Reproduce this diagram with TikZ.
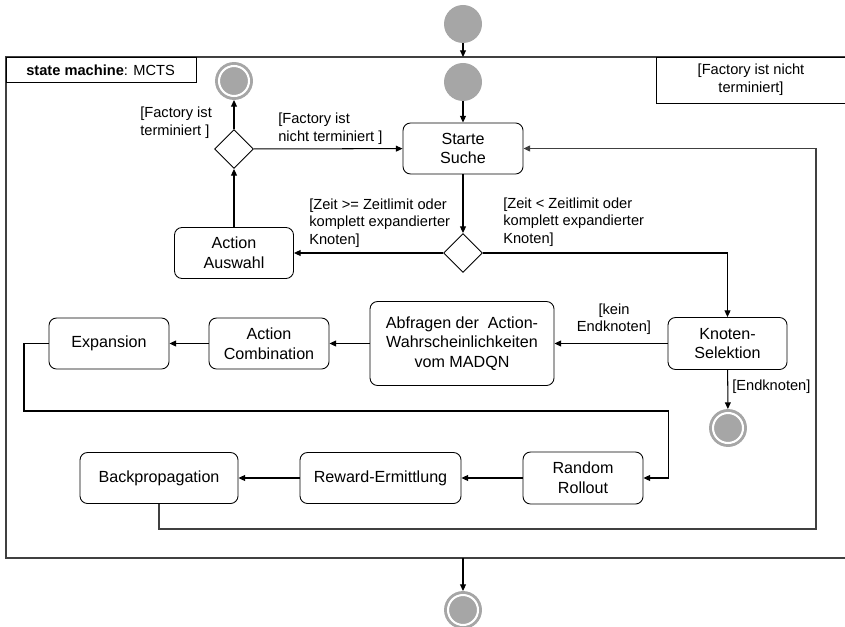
\documentclass[tikz,border=0pt]{standalone}
\usepackage{fontspec}
\setmainfont{Liberation Sans}
\usepackage{tikz}
\usetikzlibrary{shapes.geometric, arrows.meta}
\newcommand{\unitLength}{0.024cm}
\definecolor{nodeGray}{RGB}{166,166,166}
\definecolor{frameColor}{RGB}{64,64,64}
\tikzstyle{diagram} = [x = 0.024cm, y = -0.024cm]
\tikzstyle{frameLine} = [draw=frameColor, line width=1pt]
\tikzstyle{actionStyle} = [draw=black, rounded corners = .18cm, line width=.6pt, align=center, inner sep=0pt, font=\fontsize{11}{13.5}\selectfont]
\tikzstyle{decisionStyle} = [draw=black, diamond, line width=.6pt, inner sep=0pt, minimum width=39*\unitLength, minimum height=39*\unitLength]
\tikzstyle{initialStyle} = [circle, fill=nodeGray, inner sep=0pt, minimum size=38*\unitLength]
\tikzstyle{finalStyle} = [circle, fill=nodeGray, draw=nodeGray, double=white, line width=2pt, double distance=1.4pt, inner sep=0pt, minimum size=30*\unitLength, outer sep=4*\unitLength]
\tikzstyle{flowArrow} = [-{Triangle[length=4.5pt, width=4pt]}, line width=.7pt]
\tikzstyle{loopLine} = [draw=frameColor, line width=.9pt]
\tikzstyle{guardText} = [font=\fontsize{10}{12}\selectfont, inner sep=0pt]
\newcommand{\actionNode}[6]{\node [actionStyle, minimum width=#4*\unitLength, minimum height=#5*\unitLength] (#1) at (#2, #3) {#6};}

\begin{document}
\begin{tikzpicture}[diagram]
    \clip (0,0) rectangle (845,627);
    % frame of the state machine
    \draw [frameLine] (6,57) rectangle (860,558);
    \draw [black, line width=.6pt] (6,57) rectangle (196,82);
    \node [anchor=west, inner sep=0pt, font=\fontsize{10}{12}\selectfont] (machineTitle) at (26,70) {\textbf{state machine}: MCTS};
    \node [draw=black, line width=.6pt, align=center, minimum width=190*\unitLength, minimum height=46*\unitLength, font=\fontsize{10}{12.5}\selectfont] (frameGuard) at (751,80) {[Factory ist nicht\\terminiert]};
    \coordinate (frameEntry) at (463,57);
    \coordinate (frameExit) at (463,558);
    % start and end points
    \node [initialStyle] (outerStart) at (463,24) {};
    \node [initialStyle] (innerStart) at (463,82) {};
    \node [finalStyle] (factoryEnd) at (234,81) {};
    \node [finalStyle] (leafEnd) at (728,428) {};
    \node [finalStyle] (machineEnd) at (463,610) {};
    % decisions
    \node [decisionStyle] (factoryCheck) at (234,149) {};
    \node [decisionStyle] (timeCheck) at (463,253) {};
    % actions
    \actionNode{startSearch}{463}{148.5}{120}{51}{Starte\\Suche}
    \actionNode{actionSelect}{234}{253}{119}{51}{Action\\Auswahl}
    \actionNode{nodeSelect}{727.5}{343.5}{119}{52}{Knoten-\\Selektion}
    \actionNode{queryProbs}{462}{343.5}{184}{84}{\fontsize{11}{14.5}\selectfont Abfragen der\ \ Action-\\Wahrscheinlichkeiten\\vom MADQN}
    \actionNode{actionCombination}{269}{343.5}{120}{51}{Action\\Combination}
    \actionNode{expansion}{109}{343.5}{120}{51}{Expansion}
    \actionNode{randomRollout}{583}{478}{120}{52}{Random\\Rollout}
    \actionNode{rewardCalc}{380.5}{478}{161}{51}{Reward-Ermittlung}
    \actionNode{backPropagation}{159}{478}{158}{51}{Backpropagation}
    % guards
    \node [guardText, anchor=west, align=left] (factoryDoneGuard) at (140,123) {[Factory ist\\terminiert ]};
    \node [guardText, anchor=west, align=left] (factoryOpenGuard) at (278,129) {[Factory ist\\nicht terminiert ]};
    \node [guardText, anchor=west, align=left] (timeOverGuard) at (309,223) {[Zeit >= Zeitlimit oder\\komplett expandierter\\Knoten]};
    \node [guardText, anchor=west, align=left] (timeLeftGuard) at (503,222) {[Zeit < Zeitlimit oder\\komplett expandierter\\Knoten]};
    \node [guardText, align=center] (noLeafGuard) at (614,319) {[kein\\Endknoten]};
    \node [guardText, anchor=west] (leafGuard) at (732,387) {[Endknoten]};
    % transitions
    \foreach \from/\to in {outerStart/frameEntry, innerStart/startSearch, startSearch/timeCheck, timeCheck/actionSelect, actionSelect/factoryCheck, factoryCheck/factoryEnd, factoryCheck/startSearch, nodeSelect/queryProbs, nodeSelect/leafEnd, queryProbs/actionCombination, actionCombination/expansion, randomRollout/rewardCalc, rewardCalc/backPropagation, frameExit/machineEnd} {
      \draw [flowArrow] (\from) -- (\to);
    }
    \draw [flowArrow] (timeCheck.east) -| (nodeSelect.north);
    \coordinate (expansionTurn) at (24,411);
    \coordinate (rolloutTurn) at (668,478);
    \draw [flowArrow] (expansion.west) -| (expansionTurn) -| (rolloutTurn) -- (randomRollout.east);
    \coordinate (backTurn) at (816,529);
    \draw [flowArrow, loopLine] (backPropagation.south) |- (backTurn) |- (startSearch.east);
\end{tikzpicture}
\end{document}
